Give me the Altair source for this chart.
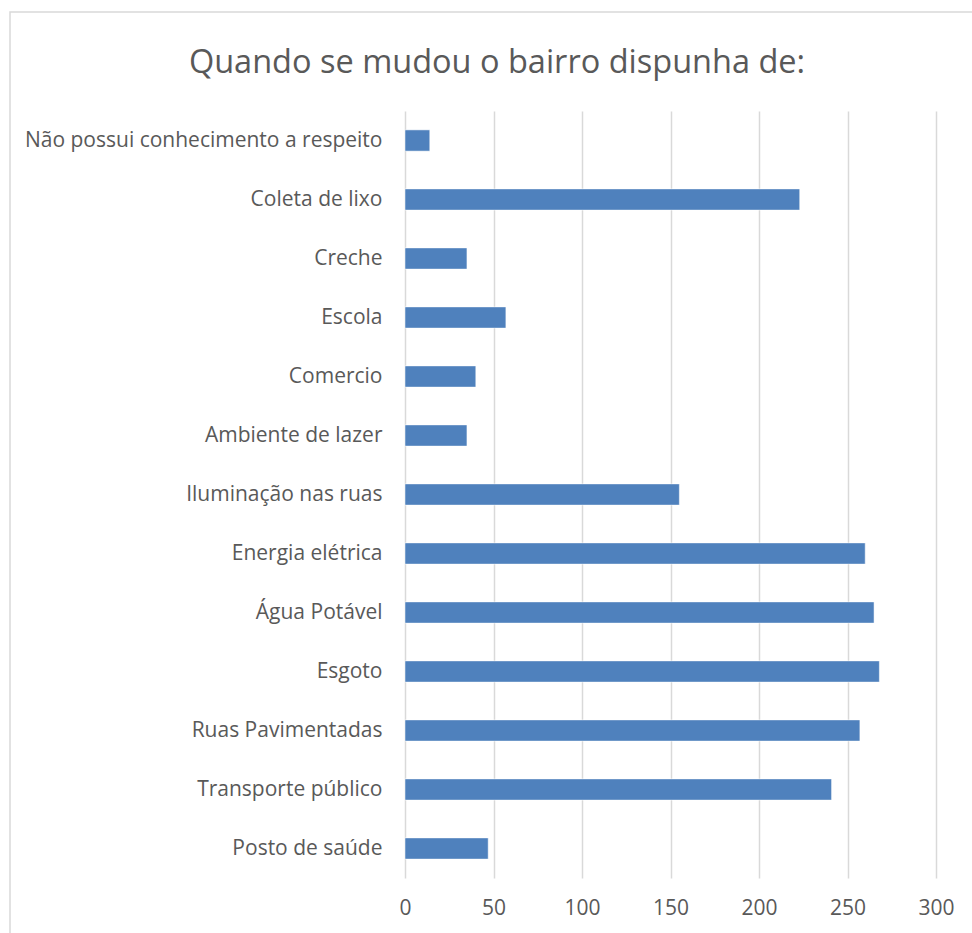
import altair as alt
import pandas as pd

categories = [
    "Não possui conhecimento a respeito",
    "Coleta de lixo",
    "Creche",
    "Escola ",
    "Comercio",
    "Ambiente de lazer",
    "Iluminação nas ruas",
    "Energia elétrica",
    "Água Potável",
    "Esgoto",
    "Ruas Pavimentadas",
    "Transporte público",
    "Posto de saúde ",
]
values = [14, 223, 35, 57, 40, 35, 155, 260, 265, 268, 257, 241, 47]
x_ticks = [0, 50, 100, 150, 200, 250, 300]
title_text = ["Quando se mudou o bairro dispunha de:"]

df = pd.DataFrame({"cat": categories, "val": values})

FONT = "Open Sans"
GRAY = "#595959"

bars = alt.Chart(df).mark_bar(color="#4f81bd", stroke="#ffffff", strokeWidth=0.5).encode(
    x=alt.X("val:Q", scale=alt.Scale(domain=[0, 300], nice=False),
            axis=alt.Axis(values=x_ticks, title=None, grid=True, gridColor="#d9d9d9",
                          gridWidth=1.5, domain=False, ticks=False, labelFontSize=21,
                          labelColor=GRAY, labelFont=FONT, labelPadding=19,
                          labelFlush=False)),
    y=alt.Y("cat:N", sort=categories,
            scale=alt.Scale(paddingInner=0.64, paddingOuter=0.32),
            axis=alt.Axis(title=None, domain=False, ticks=False, grid=False,
                          labelFontSize=21, labelColor=GRAY, labelFont=FONT,
                          labelPadding=23, labelLimit=400)),
)

border = alt.Chart(pd.DataFrame({"a": [0]})).mark_rect(
    fill="transparent", stroke="#d9d9d9", strokeWidth=1.5
).encode(
    x=alt.value(-395), x2=alt.value(570), y=alt.value(-99), y2=alt.value(900)
)

title = alt.Chart(pd.DataFrame({"t": title_text})).mark_text(
    font=FONT, fontSize=32.5, color=GRAY, align="center", baseline="alphabetic"
).encode(
    text="t:N", x=alt.value(92), y=alt.value(-38)
)

chart = alt.layer(border, bars, title).properties(
    width=531,
    height=767,
    background="white",
    autosize=alt.AutoSizeParams(type="none"),
    padding={"left": 405, "top": 111, "right": 36, "bottom": 55},
).configure_view(stroke="transparent", strokeWidth=0)

chart.save("out.html", embed_options={"renderer": "svg", "actions": False})
